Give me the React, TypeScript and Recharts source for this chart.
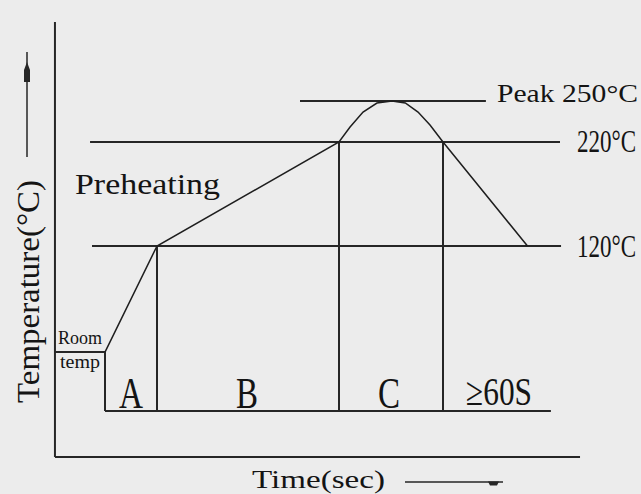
import React from "react";
import { ComposedChart, Line, XAxis, YAxis, ReferenceLine } from "recharts";

// ---- Reflow profile (schematic): time in s, temperature in °C ----
const profileTime = [0, 40, 180, 188.5, 198.5, 209.2, 220.8, 231, 240.8, 250, 260, 325];
const profileTemp = [18, 120, 220, 234.4, 248.8, 257.5, 259.4, 257.5, 248.8, 236.3, 220, 120];

// horizontal guide levels (drawn temperature) and their time spans
const guideTemps = [259.4, 220, 120];
const guideFrom = [150, -11.5, -10];
const guideTo = [293, 350, 350.8];
const guideLabels = ["Peak 250°C", "220°C", "120°C"];

// phase boundaries: A | B | C | ≥60S
const phaseTimes = [0, 40, 180, 260];
const phaseTopTemps = [18, 120, 220, 220];
const phaseLabels = ["A", "B", "C", "≥60S"];
const phaseEnd = 343;
const phaseBase = -38.7;

const roomTemp = 18;
const axisTime = -38.5;
const axisTemp = -82.9;
const axisTimeEnd = 365.4;
const axisTempTop = 335.4;

// scale config
const W = 641;
const H = 494;
const PX_PER_S = 1.3;
const ORIGIN_PX = 105;
const PX_PER_C = 1.04;
const T120_PX = 246;
const xDomain = [-ORIGIN_PX / PX_PER_S, (W - ORIGIN_PX) / PX_PER_S];
const yDomain = [120 - (H - T120_PX) / PX_PER_C, 120 + T120_PX / PX_PER_C];

const data = profileTime.map((t, i) => ({ t, T: profileTemp[i] }));

const INK = "#262626";
const FONT = "'Liberation Serif', serif";

const seg = (x1: number, y1: number, x2: number, y2: number, key: string, w = 2) => (
  <ReferenceLine
    key={key}
    segment={[{ x: x1, y: y1 }, { x: x2, y: y2 }]}
    stroke={INK}
    strokeWidth={w}
    ifOverflow="visible"
  />
);

type T = { s: string; x: number; y: number; len: number; fs: number; sx?: number };
const texts: T[] = [
  { s: guideLabels[0], x: 497, y: 102, len: 141, fs: 25 },
  { s: guideLabels[1], x: 577, y: 152, len: 0, fs: 32, sx: 0.72 },
  { s: guideLabels[2], x: 577, y: 257, len: 0, fs: 32, sx: 0.72 },
  { s: "Preheating", x: 75, y: 194, len: 145, fs: 30 },
  { s: "Room", x: 58, y: 344, len: 44, fs: 18 },
  { s: "temp", x: 60, y: 368, len: 40, fs: 18 },
  { s: phaseLabels[0], x: 119, y: 408, len: 24, fs: 45 },
  { s: phaseLabels[1], x: 236, y: 408, len: 22, fs: 45 },
  { s: phaseLabels[2], x: 378, y: 408, len: 22, fs: 45 },
  { s: phaseLabels[3], x: 466, y: 405, len: 66, fs: 40 },
  { s: "Time(sec)", x: 252, y: 488, len: 133, fs: 26 },
];

export default function App() {
  return (
    <div style={{ position: "fixed", left: 0, top: 0, width: W, height: H, background: "#ececec" }}>
      <ComposedChart width={W} height={H} data={data} margin={{ top: 0, right: 0, bottom: 0, left: 0 }}>
        <XAxis type="number" dataKey="t" domain={xDomain} allowDataOverflow hide />
        <YAxis type="number" domain={yDomain} allowDataOverflow hide />
        {seg(axisTime, axisTemp, axisTime, axisTempTop, "ya")}
        {seg(axisTime, axisTemp, axisTimeEnd, axisTemp, "xa")}
        {guideTemps.map((g, i) => seg(guideFrom[i], g, guideTo[i], g, "g" + i))}
        {seg(phaseTimes[0], phaseBase, phaseEnd, phaseBase, "base")}
        {seg(axisTime, roomTemp, phaseTimes[0], roomTemp, "room")}
        {phaseTimes.map((p, i) => seg(p, phaseTopTemps[i], p, phaseBase, "p" + i))}
        <Line
          type="linear"
          dataKey="T"
          stroke="#1e1e1e"
          strokeWidth={1.5}
          dot={false}
          activeDot={false}
          isAnimationActive={false}
        />
      </ComposedChart>
      <svg width={W} height={H} style={{ position: "absolute", left: 0, top: 0, pointerEvents: "none" }}>
        {texts.map((t) =>
          t.sx ? (
            <text
              key={t.s}
              transform={`translate(${t.x},${t.y}) scale(${t.sx},1)`}
              fontFamily={FONT}
              fontSize={t.fs}
              fill="#141414"
            >
              {t.s}
            </text>
          ) : (
            <text
              key={t.s}
              x={t.x}
              y={t.y}
              textLength={t.len}
              lengthAdjust="spacingAndGlyphs"
              fontFamily={FONT}
              fontSize={t.fs}
              fill="#141414"
            >
              {t.s}
            </text>
          )
        )}
        <text
          transform="translate(39,403) rotate(-90)"
          textLength={223}
          lengthAdjust="spacingAndGlyphs"
          fontFamily={FONT}
          fontSize={32}
          fill="#141414"
        >
          Temperature(°C)
        </text>
        <line x1={27} y1={157} x2={27} y2={52} stroke={INK} strokeWidth={1.5} />
        <polygon points="27,62 30,70 30,82 24,82 24,70" fill={INK} />
        <line x1={405} y1={482} x2={503} y2={482} stroke={INK} strokeWidth={1.5} />
        <polygon points="488,481.5 499,481.5 497,485.5 490,485.5" fill={INK} />
      </svg>
    </div>
  );
}
